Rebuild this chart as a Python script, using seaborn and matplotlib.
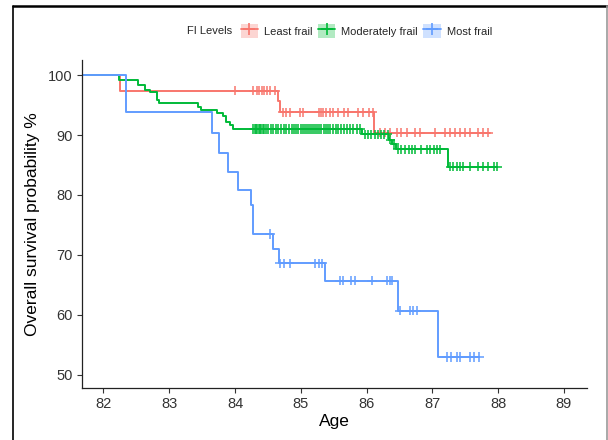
import numpy as np
import pandas as pd
import seaborn as sns
import matplotlib.pyplot as plt
from matplotlib.lines import Line2D
from matplotlib.patches import Patch
from matplotlib.legend_handler import HandlerTuple

# Kaplan-Meier steps (age at drop, survival % after drop)
groups = ['Least frail', 'Moderately frail', 'Most frail']
colors = ['#F8766D', '#00BA38', '#619CFF']
start_age = 81.67

least_times = [82.25, 84.65, 84.69, 86.11]
least_surv = [97.4, 95.6, 93.8, 90.4]
least_end = 87.87
least_censor = [84.00, 84.28, 84.33, 84.37, 84.41, 84.44, 84.48, 84.53, 84.61,
                84.73, 84.77, 84.83, 84.99, 85.04, 85.27, 85.30, 85.34, 85.38,
                85.44, 85.49, 85.57, 85.65, 85.72, 85.87, 85.95, 86.03, 86.09,
                86.20, 86.28, 86.36, 86.46, 86.53, 86.61, 86.74, 86.81, 87.04,
                87.19, 87.27, 87.34, 87.42, 87.49, 87.57, 87.70, 87.77, 87.85]

mod_times = [82.24, 82.52, 82.63, 82.71, 82.81, 82.85, 83.44, 83.49, 83.72,
             83.82, 83.87, 83.92, 83.97, 85.93, 86.34, 86.39, 86.44, 87.24]
mod_surv = [99.2, 98.3, 97.5, 97.1, 95.9, 95.3, 94.7, 94.2, 93.6,
            93.1, 92.2, 91.7, 91.0, 90.1, 89.2, 88.5, 87.6, 84.7]
mod_end = 87.98
mod_censor = [84.28, 84.30, 84.32, 84.34, 84.36, 84.38, 84.40, 84.42, 84.44,
              84.47, 84.50, 84.55, 84.58, 84.63, 84.66, 84.70, 84.74, 84.77,
              84.82, 84.86, 84.89, 84.93, 84.96, 85.00, 85.03, 85.06, 85.09,
              85.12, 85.15, 85.18, 85.21, 85.24, 85.28, 85.31, 85.35, 85.38,
              85.42, 85.45, 85.49, 85.53, 85.57, 85.61, 85.66, 85.70, 85.75,
              85.80, 85.85, 85.90, 85.97, 86.02, 86.07, 86.12, 86.17, 86.22,
              86.27, 86.32, 86.36, 86.42, 86.47, 86.52, 86.59, 86.64, 86.69,
              86.74, 86.82, 86.92, 86.97, 87.02, 87.07, 87.12, 87.27, 87.32,
              87.37, 87.42, 87.47, 87.57, 87.70, 87.77, 87.85, 87.93, 87.98]

most_times = [82.35, 83.65, 83.76, 83.89, 84.05, 84.24, 84.27, 84.28, 84.57,
              84.67, 85.37, 86.47, 87.08]
most_surv = [93.8, 90.3, 87.0, 83.9, 80.9, 78.3, 75.9, 73.5, 71.0,
             68.6, 65.7, 60.7, 53.0]
most_end = 87.71
most_censor = [84.53, 84.68, 84.75, 84.83, 85.21, 85.27, 85.32, 85.59, 85.64,
               85.77, 85.82, 86.08, 86.31, 86.35, 86.38, 86.50, 86.66, 86.71,
               86.76, 87.22, 87.29, 87.37, 87.42, 87.57, 87.63, 87.71]

curves = [
    (least_times, least_surv, least_end, least_censor),
    (mod_times, mod_surv, mod_end, mod_censor),
    (most_times, most_surv, most_end, most_censor),
]

line_rows = []
cens_rows = []
for name, (times, surv, end, cens) in zip(groups, curves):
    t = [start_age] + list(times) + [end]
    s = [100.0] + list(surv) + [surv[-1]]
    for a, b in zip(t, s):
        line_rows.append((name, a, b))
    levels = np.array([100.0] + list(surv))
    idx = np.searchsorted(np.array(times), np.array(cens), side='right')
    for a, b in zip(cens, levels[idx]):
        cens_rows.append((name, a, b))

lines = pd.DataFrame(line_rows, columns=['group', 'age', 'surv'])
marks = pd.DataFrame(cens_rows, columns=['group', 'age', 'surv'])

sns.set_style('white')
plt.rcParams['font.family'] = ['Liberation Sans', 'DejaVu Sans']

fig = plt.figure(figsize=(6.08, 4.40), dpi=100)
ax = fig.add_axes([0.1344, 0.1182, 0.8311, 0.7454])

palette = dict(zip(groups, colors))
sns.lineplot(data=lines, x='age', y='surv', hue='group', palette=palette,
             drawstyle='steps-post', estimator=None, sort=False,
             linewidth=1.4, legend=False, ax=ax)
sns.scatterplot(data=marks, x='age', y='surv', hue='group', palette=palette,
                marker='+', s=45, linewidth=1.1, legend=False, ax=ax, zorder=3)

ax.set_xlim(81.67, 89.35)
ax.set_ylim(47.83, 102.5)
ax.set_xticks(range(82, 90))
ax.set_yticks(range(50, 101, 10))
ax.set_xlabel('Age', fontsize=12.5, color='black', labelpad=2)
ax.set_ylabel('Overall survival probability %', fontsize=12.5, color='black', labelpad=6)
ax.tick_params(axis='both', labelsize=10.5, colors='#333333', length=3.5,
               width=0.8, direction='out', bottom=True, left=True, pad=3)
for side in ['top', 'right']:
    ax.spines[side].set_visible(False)
for side in ['left', 'bottom']:
    ax.spines[side].set_color('#222222')
    ax.spines[side].set_linewidth(0.9)

# legend along the top, title on the left
handles = []
for c in colors:
    box = Patch(facecolor=c, alpha=0.3, edgecolor='none')
    mk = Line2D([], [], color=c, marker='+', markersize=8, linewidth=1.3, mew=1.2)
    handles.append((box, mk))
fig.legend(handles, groups, handler_map={tuple: HandlerTuple(ndivide=1)},
           ncol=3, loc='center left', bbox_to_anchor=(0.3865, 0.929),
           frameon=False, fontsize=8, handlelength=1.55, handleheight=1.6,
           handletextpad=0.55, columnspacing=0.5, borderpad=0)
fig.text(0.3076, 0.929, 'FI Levels', fontsize=8, va='center', ha='left')

# outer frame of the screenshot
fig.add_artist(Line2D([13 / 608, 13 / 608], [0, 1 - 6 / 440], color='black', lw=1.2))
fig.add_artist(Line2D([13 / 608, 607 / 608], [1 - 6 / 440, 1 - 6 / 440], color='black', lw=1.8))
fig.add_artist(Line2D([607 / 608, 607 / 608], [0, 1 - 6 / 440], color='#999999', lw=1.2))

fig.savefig('out.png', dpi=100)
